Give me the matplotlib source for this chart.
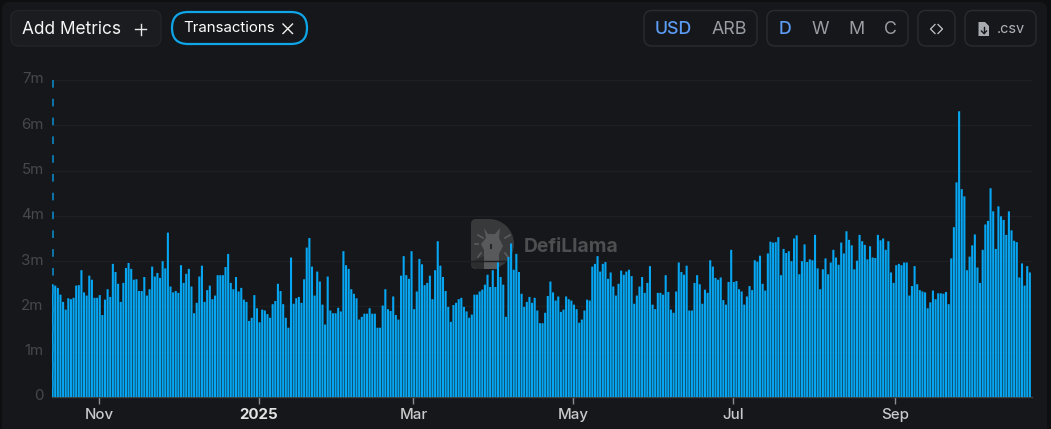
# defillama transactions chart

import numpy as np
import pandas as pd
import matplotlib
matplotlib.use("Agg")
import matplotlib.pyplot as plt
from matplotlib.patches import FancyBboxPatch, Polygon, Wedge
from matplotlib.transforms import ScaledTranslation

plt.rcParams['font.family'] = ['Inter', 'DejaVu Sans']

# daily transactions in millions
tx_oct_jan = [2.49, 2.46, 2.41, 2.26, 2.10, 1.93, 2.18, 2.16, 2.19, 2.46, 2.47, 2.80, 2.31, 2.24, 2.68, 2.59,
              2.19, 2.19, 2.25, 1.81, 2.15, 2.38, 2.21, 2.94, 2.76, 2.50, 2.10, 2.52, 2.85, 2.96, 2.83, 2.59,
              2.60, 2.34, 2.34, 2.65, 2.24, 2.38, 2.88, 2.66, 2.74, 2.63, 3.00, 2.84, 3.63, 2.44, 2.31, 2.34,
              2.30, 2.91, 2.52, 2.72, 2.83, 2.44, 1.85, 2.08, 2.66, 2.90, 2.10, 2.36, 2.46, 2.16, 2.24, 2.69,
              2.69, 2.69, 2.87, 3.16, 2.52, 2.38, 2.65, 2.33, 2.41, 2.15, 2.10, 1.68, 1.75, 2.25, 1.96, 1.65,
              1.93, 1.91, 1.83, 1.75, 2.05, 2.12, 2.50, 2.34, 2.05, 1.75, 1.53]
tx_jan_may = [3.08, 2.06, 2.18, 2.21, 2.08, 2.60, 3.30, 3.51, 2.88, 2.24, 2.77, 2.55, 2.04, 1.60, 2.66, 1.91,
              1.85, 1.85, 1.97, 1.89, 3.22, 2.91, 2.83, 2.38, 2.28, 2.18, 1.71, 1.77, 1.84, 1.84, 1.96, 1.84,
              1.84, 1.53, 1.53, 2.02, 2.38, 1.94, 1.90, 2.22, 1.81, 1.71, 2.68, 3.11, 2.69, 2.61, 3.22, 1.94,
              2.33, 3.05, 2.93, 2.47, 2.52, 2.68, 2.16, 2.80, 3.44, 2.90, 2.65, 2.34, 1.99, 1.66, 2.03, 2.08,
              2.16, 2.19, 1.99, 1.89, 1.75, 1.82, 2.26, 2.26, 2.33, 2.37, 2.48, 2.70, 2.43, 2.80, 2.43, 2.97,
              2.65, 2.48, 1.77, 3.09, 3.39, 2.81, 3.16, 2.76, 2.28, 1.99, 2.10]
tx_may_aug = [2.21, 2.08, 2.19, 1.91, 1.63, 1.63, 1.86, 2.23, 2.55, 2.31, 2.13, 2.22, 1.88, 1.93, 2.22, 2.16,
              2.13, 2.04, 1.94, 1.64, 1.71, 1.91, 2.15, 2.13, 2.88, 2.94, 3.11, 2.77, 2.94, 2.98, 2.61, 2.75,
              2.44, 2.24, 2.50, 2.79, 2.70, 2.77, 2.81, 2.67, 2.06, 2.24, 2.44, 2.65, 2.30, 2.52, 2.89, 2.04,
              1.94, 2.30, 2.30, 2.26, 2.69, 2.32, 1.93, 1.86, 2.33, 2.97, 2.76, 2.70, 2.90, 1.91, 1.91, 2.52,
              2.69, 2.49, 2.06, 2.37, 2.30, 3.02, 2.88, 2.63, 2.59, 2.64, 2.14, 2.04, 2.54, 3.25, 2.54, 2.56,
              2.38, 2.33, 2.04, 2.22, 2.45, 2.36, 3.02, 2.99, 3.12, 2.50, 2.35, 3.17, 3.43, 3.41, 3.42, 3.53]
tx_aug_oct = [2.69, 3.27, 3.18, 3.22, 3.00, 3.50, 3.57, 2.71, 3.00, 3.37, 2.98, 3.04, 3.02, 3.58, 2.84, 2.38,
              2.82, 3.06, 2.71, 2.97, 3.25, 3.08, 2.92, 3.41, 3.17, 3.66, 3.47, 3.35, 2.82, 3.01, 3.58, 3.44,
              3.36, 3.04, 3.33, 3.08, 3.07, 3.58, 3.46, 3.50, 3.25, 3.44, 2.75, 2.52, 2.91, 2.94, 2.91, 2.97,
              2.97, 2.24, 2.45, 2.89, 2.49, 2.36, 2.33, 2.31, 1.96, 2.09, 2.35, 2.16, 2.29, 2.29, 2.28, 2.32,
              2.05, 3.06, 3.75, 4.74, 6.31, 4.59, 4.43, 2.80, 3.10, 3.35, 3.59, 2.86, 2.52, 3.25, 3.81, 3.89,
              4.61, 4.10, 3.27, 4.21, 3.99, 3.91, 3.58, 4.10, 3.68, 3.45, 3.42, 2.64, 2.95, 2.46, 2.89, 2.75]

start_date = "2024-10-14 07:00"
y_ticks = [0, 1, 2, 3, 4, 5, 6, 7]
y_labels = ["0", "1m", "2m", "3m", "4m", "5m", "6m", "7m"]
x_ticks = ["2024-11-01", "2025-01-01", "2025-03-01", "2025-05-01", "2025-07-01", "2025-09-01"]
x_labels = ["Nov", "2025", "Mar", "May", "Jul", "Sep"]

transactions = tx_oct_jan + tx_jan_may + tx_may_aug + tx_aug_oct
dates = pd.date_range(start_date, periods=len(transactions), freq="D")

W, H = 1051, 429
PANEL = "#15171a"
GREY = "#2a2c30"

fig = plt.figure(figsize=(W / 100, H / 100), dpi=100, facecolor="#0e0f11")

# page layer in pixel coords, sits under the chart
page = fig.add_axes([0, 0, 1, 1], zorder=0)
page.set_xlim(0, W)
page.set_ylim(H, 0)
page.axis("off")
page.add_patch(FancyBboxPatch((2, 2), W - 6, H + 30, boxstyle="round,pad=0,rounding_size=8", fc=PANEL, ec="none"))


def box(x0, x1, y0=10.5, y1=46, fc="none", ec=GREY, lw=1, r=8):
    page.add_patch(FancyBboxPatch((x0, y0), x1 - x0, y1 - y0, boxstyle="round,pad=0,rounding_size=%s" % r,
                                  fc=fc, ec=ec, lw=lw))


def label(x, y, s, size, color="#ffffff", ha="left", weight="normal"):
    page.text(x, y, s, fontsize=size * 0.72, color=color, ha=ha, va="center", weight=weight)


# add metrics
box(11, 161, fc="#1a1c1f", ec="#222428")
label(22, 29, "Add Metrics", 17.3, "#f4f4f5")
page.plot([135, 146], [29, 29], color="#e8e8e8", lw=1)
page.plot([140.5, 140.5], [23.5, 34.5], color="#e8e8e8", lw=1)

# transactions pill
box(172, 307, 12, 44, ec="#0ea5e9", lw=1.6, r=16)
label(183, 28, "Transactions", 15, "#ffffff")
page.plot([283, 292.5], [24, 33.5], color="#eeeeee", lw=1)
page.plot([283, 292.5], [33.5, 24], color="#eeeeee", lw=1)

# denomination + grouping
box(644, 757)
label(655, 29, "USD", 17.8, "#5c9cf5", weight="medium")
label(712, 29, "ARB", 17.8, "#9a9ea3")
box(767, 908)
label(784.5, 29, "D", 17.8, "#5c9cf5", ha="center", weight="medium")
label(820, 29, "W", 17.8, "#9a9ea3", ha="center")
label(856, 29, "M", 17.8, "#9a9ea3", ha="center")
label(890, 29, "C", 17.8, "#9a9ea3", ha="center")

# embed button
box(918, 955)
page.plot([935, 930.5, 935], [24.5, 29, 33.5], color="#c4c6c9", lw=0.9)
page.plot([938, 942.5, 938], [24.5, 29, 33.5], color="#c4c6c9", lw=0.9)

# csv button
box(965, 1036)
page.add_patch(Polygon([(978.5, 22), (985, 22), (989, 26), (989, 36), (978.5, 36)], closed=True,
                       fc="#a8abaf", ec="none"))
page.plot([984, 984], [27, 33], color=PANEL, lw=1)
page.plot([981.5, 984, 986.5], [31, 33.5, 31], color=PANEL, lw=1)
label(997, 29, ".csv", 14.5, "#b0b3b7")

# watermark
page.add_patch(FancyBboxPatch((471, 219), 22, 50, boxstyle="round,pad=0,rounding_size=5", fc="#38393b", ec="none"))
page.add_patch(Wedge((489, 244), 25, -90, 90, fc="#38393b", ec="none"))
page.add_patch(Polygon([(471, 262), (484, 256), (484, 269), (476, 269), (471, 265)], closed=True, fc="#2c2d2f", ec="none"))
page.add_patch(Polygon([(484, 228), (488, 234), (495, 234), (500, 228), (499, 238), (503, 246), (499, 254),
                        (499, 269), (484, 269), (484, 250), (481, 244), (486, 238)],
                       closed=True, fc="#58595b", ec="none"))
page.plot([491, 491], [245, 248], color="#26272a", lw=1.5)
for x0, y0, x1, y1 in [(478, 235, 483, 238), (505, 238, 510, 235), (475, 244, 478, 244),
                       (478, 257, 481, 253), (505, 253, 508, 257)]:
    page.plot([x0, x1], [y0, y1], color="#5a5b5d", lw=1.2)
page.text(524, 246.5, "DefiLlama", fontsize=13.9, color="#4d4e50", weight="bold", va="center")

# chart
ax_left, ax_right, ax_top, ax_bottom = 52, 1032, 80, 397
ax = fig.add_axes([ax_left / W, 1 - ax_bottom / H, (ax_right - ax_left) / W, (ax_bottom - ax_top) / H], zorder=1)
ax.patch.set_alpha(0)

bars = ax.bar(dates, transactions, width=0.8, color="#06a6f2", linewidth=0, zorder=3)
for b in bars:
    b.set_snap(False)

px_per_day = 2.62
nov_1 = pd.Timestamp("2024-11-01")
ax.set_xlim(nov_1 - pd.Timedelta(days=(99 - ax_left) / px_per_day), nov_1 + pd.Timedelta(days=(ax_right - 99) / px_per_day))
ax.set_ylim(0, 7)

ax.set_yticks(y_ticks)
ax.set_yticklabels(y_labels)
ax.set_xticks(pd.to_datetime(x_ticks))
ax.set_xticklabels(x_labels)

ax.grid(axis="y", color="#1d1f22", lw=1, zorder=1)
ax.set_axisbelow(True)
for side in ["top", "right", "left"]:
    ax.spines[side].set_visible(False)
ax.spines["bottom"].set_color("#3c3f43")
ax.spines["bottom"].set_linewidth(1)

ax.tick_params(axis="y", length=0, labelsize=10.8, labelcolor="#46484b", pad=6)
ax.tick_params(axis="x", length=5, width=1, color="#8a8c8f", labelsize=10.8, labelcolor="#c9cacc", pad=3)
up = ScaledTranslation(0, 1.5 / 72, fig.dpi_scale_trans)
for t in ax.get_yticklabels():
    t.set_transform(t.get_transform() + up)
for t in ax.get_xticklabels():
    t.set_weight("medium")
    if t.get_text() == "2025":
        t.set_weight("bold")
        t.set_color("#e4e4e5")

# dashed marker on first day
ax.plot([dates[0], dates[0]], [7, 0], color="#0b8fd0", lw=1.1, dashes=(5, 7.3), zorder=4)

fig.savefig("out.png", dpi=100, facecolor=fig.get_facecolor())
